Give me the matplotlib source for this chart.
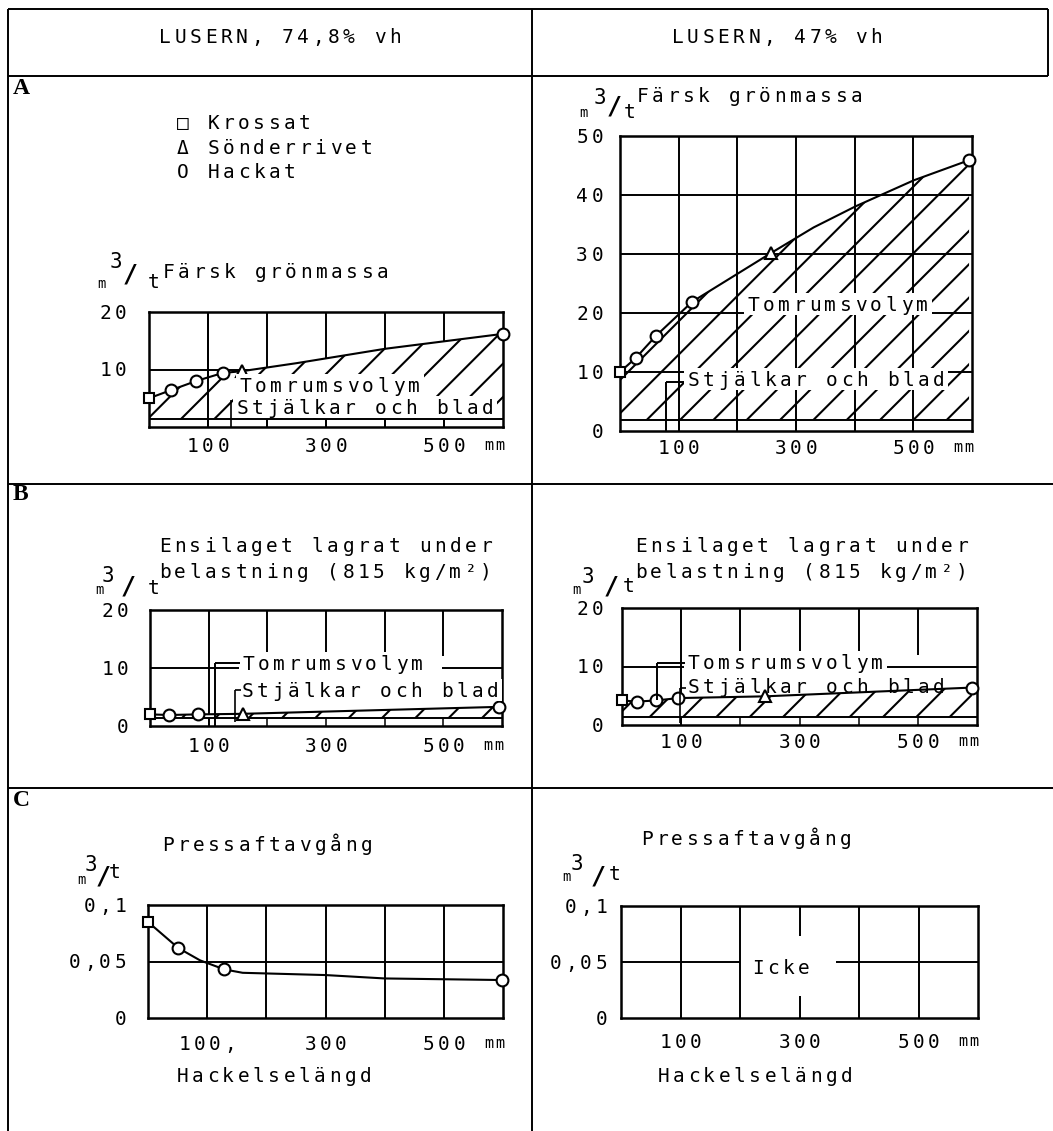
import matplotlib
matplotlib.use("Agg")
import matplotlib.pyplot as plt
from matplotlib.patches import Rectangle

W, H = 1053, 1131
MONO = ['DejaVu Sans Mono', 'Liberation Mono']
plt.rcParams['font.family'] = MONO
plt.rcParams['hatch.linewidth'] = 1.5

# ---- data: hackelselängd (mm) -> m3/t ----
# A  Färsk grönmassa, 74,8 % vh
a1_kross_x = [0]
a1_kross_y = [5.0]
a1_sond_x = [157]
a1_sond_y = [9.7]
a1_hack_x = [37, 80, 125, 600]
a1_hack_y = [6.4, 8.0, 9.4, 16.2]
a1_curve_x = [0, 37, 80, 125, 157, 250, 400, 600]
a1_curve_y = [5.0, 6.4, 8.0, 9.4, 9.7, 11.1, 13.6, 16.2]
a1_stalk = 1.4

# A  Färsk grönmassa, 47 % vh
a2_kross_x = [0]
a2_kross_y = [10.0]
a2_sond_x = [258]
a2_sond_y = [30.2]
a2_hack_x = [27, 61, 123, 595]
a2_hack_y = [12.4, 16.1, 21.9, 45.9]
a2_curve_x = [0, 27, 61, 123, 258, 330, 402, 501, 595]
a2_curve_y = [10.0, 12.4, 16.1, 21.9, 30.2, 34.5, 38.1, 42.5, 45.9]
a2_stalk = 1.9

# B  under belastning, 74,8 % vh
b1_kross_x = [0]
b1_kross_y = [2.0]
b1_sond_x = [158]
b1_sond_y = [2.1]
b1_hack_x = [33, 81, 595]
b1_hack_y = [1.9, 2.0, 3.3]
b1_curve_x = [0, 33, 81, 158, 595]
b1_curve_y = [2.0, 1.9, 2.0, 2.1, 3.3]
b1_stalk = 1.4

# B  under belastning, 47 % vh
b2_kross_x = [0]
b2_kross_y = [4.2]
b2_sond_x = [242]
b2_sond_y = [4.9]
b2_hack_x = [25, 58, 95, 592]
b2_hack_y = [4.0, 4.2, 4.6, 6.4]
b2_curve_x = [0, 25, 58, 95, 242, 592]
b2_curve_y = [4.2, 4.0, 4.2, 4.6, 4.9, 6.4]
b2_stalk = 1.3

# C  Pressaftavgång, 74,8 % vh
c1_kross_x = [0]
c1_kross_y = [0.085]
c1_hack_x = [51, 129, 598]
c1_hack_y = [0.062, 0.043, 0.0336]
c1_curve_x = [0, 51, 88, 129, 160, 300, 400, 598]
c1_curve_y = [0.085, 0.062, 0.051, 0.043, 0.040, 0.038, 0.035, 0.0336]

x_grid = [100, 200, 300, 400, 500]
x_ticks = [100, 300, 500]

fig = plt.figure(figsize=(W / 100, H / 100), dpi=100)

# overlay in pixel coordinates for the table, texts and leaders
ov = fig.add_axes([0, 0, 1, 1], zorder=10)
ov.set_xlim(0, W)
ov.set_ylim(H, 0)
ov.axis('off')
ov.patch.set_alpha(0)


def tw(x, y, s, size=14, pitch=15.3, ha='left'):
    # typewriter text: one fixed cell per character
    n = len(s)
    if ha == 'left':
        start = x + pitch / 2
    elif ha == 'center':
        start = x - pitch * (n - 1) / 2
    else:
        start = x - pitch * (n - 1) - pitch / 2
    for i, ch in enumerate(s):
        if ch != ' ':
            ov.text(start + i * pitch, y + size * 0.48, ch, fontsize=size,
                    ha='center', va='baseline', zorder=3)


def label(x, y, s, bg=True):
    if bg:
        ov.add_patch(Rectangle((x - 2, y - 11), len(s) * 15.3 + 4, 22,
                               fc='white', ec='none', zorder=1))
    tw(x, y, s)


def line(xs, ys, lw=1.4):
    ov.plot(xs, ys, color='black', lw=lw, zorder=2, solid_capstyle='butt')


def units(m, three, slash, t):
    ov.text(*m, 'm', fontsize=10, ha='center', va='center')
    ov.text(*three, '3', fontsize=15, ha='center', va='center')
    ov.text(*slash, '/', fontsize=18, ha='center', va='center', weight='bold')
    ov.text(*t, 't', fontsize=14, ha='center', va='center')


def to_px(ax, x, y):
    X, Y = ax.transData.transform((x, y))
    return X, H - Y


def panel(box, ymax, yticks, ylabels, ygap, xgap, xlabels=('100', '300', '500')):
    x0, y0, x1, y1 = box
    ax = fig.add_axes([x0 / W, 1 - y1 / H, (x1 - x0) / W, (y1 - y0) / H])
    ax.set_xlim(0, 600)
    ax.set_ylim(0, ymax)
    ax.set_xticks([])
    ax.set_yticks([])
    for sp in ax.spines.values():
        sp.set_linewidth(1.8)
    for v, lab in zip(yticks, ylabels):
        tw(x0 - ygap, to_px(ax, 0, v)[1], lab, ha='right')
    for v, lab in zip(x_ticks, xlabels):
        tw(to_px(ax, v, 0)[0], y1 + xgap, lab, ha='center')
    tw(to_px(ax, 500, 0)[0] + 50, y1 + xgap, 'mm', size=11, pitch=11, ha='center')
    return ax


def series(ax, cx, cy, kx, ky, hx, hy, sx=None, sy=None):
    ax.plot(cx, cy, color='black', lw=1.5, zorder=3, clip_on=False)
    mk = dict(mfc='white', mec='black', mew=1.5, ls='none', clip_on=False, zorder=4)
    ax.plot(kx, ky, marker='s', ms=7.5, **mk)
    ax.plot(hx, hy, marker='o', ms=8.5, **mk)
    if sx is not None:
        ax.plot(sx, sy, marker='^', ms=8.5, **mk)


def hatch(ax, cx, cy, base, fc):
    ax.fill_between(cx, base, cy, facecolor=fc, edgecolor='black', hatch='/',
                    linewidth=0, zorder=2)
    ax.axhline(base, color='black', lw=1.4, zorder=3)
    ax.vlines(x_grid, 0, base, color='black', lw=1.1, zorder=3)


# ---------- table ----------
line([8, 1048], [9, 9])
line([8, 1048], [76, 76])
line([8, 8], [9, H])
line([532, 532], [9, H])
line([1048, 1048], [9, 76])
line([8, W], [484, 484])
line([8, W], [788, 788])

tw(280, 36, 'LUSERN, 74,8% vh', ha='center')
tw(777, 36, 'LUSERN, 47% vh', ha='center')
for txt, yy in [('A', 88), ('B', 494), ('C', 801)]:
    ov.text(13, yy, txt, family=['Liberation Serif', 'DejaVu Serif'], fontsize=17,
            weight='bold', va='center', ha='left')

# legend, typed as text in the original
tw(175, 122, '□ Krossat')
tw(175, 147, 'Δ Sönderrivet')
tw(175, 171, 'O Hackat')

# ---------- A left ----------
axA1 = panel((149, 312, 503, 427), 20, [10, 20], ['10', '20'], 21, 18)
axA1.hlines(10, 0, 600, color='black', lw=1.4, zorder=1)
axA1.vlines(x_grid, 0, 20, color='black', lw=1.4, zorder=1)
hatch(axA1, a1_curve_x, a1_curve_y, a1_stalk, 'white')
axA1.vlines(100, 0, 20, color='black', lw=1.4, zorder=2.5)
series(axA1, a1_curve_x, a1_curve_y, a1_kross_x, a1_kross_y,
       a1_hack_x, a1_hack_y, a1_sond_x, a1_sond_y)
units((101, 284), (116, 262), (130, 275), (154, 282))
tw(161, 271, 'Färsk grönmassa')
label(238, 385, 'Tomrumsvolym')
label(235, 407, 'Stjälkar och blad')
line([231, 231], [400, 427], lw=1.2)

# ---------- A right ----------
axA2 = panel((620, 136, 972, 431), 50, [0, 10, 20, 30, 40, 50],
             ['0', '10', '20', '30', '40', '50'], 15, 16)
axA2.hlines([10, 20, 30, 40], 0, 600, color='black', lw=1.4, zorder=1)
axA2.vlines(x_grid, 0, 50, color='black', lw=1.4, zorder=1)
hatch(axA2, a2_curve_x, a2_curve_y, a2_stalk, 'none')
series(axA2, a2_curve_x, a2_curve_y, a2_kross_x, a2_kross_y,
       a2_hack_x, a2_hack_y, a2_sond_x, a2_sond_y)
units((583, 113), (600, 98), (614, 107), (630, 112))
tw(635, 95, 'Färsk grönmassa')
label(746, 304, 'Tomrumsvolym')
label(686, 379, 'Stjälkar och blad')
line([666, 684], [382, 382])
line([666, 666], [382, 431])

# ---------- B left ----------
axB1 = panel((150, 610, 502, 726), 20, [0, 10, 20], ['0', '10', '20'], 20, 19)
axB1.hlines(10, 0, 600, color='black', lw=1.4, zorder=1)
axB1.vlines(100, 0, 20, color='black', lw=1.4, zorder=1)
axB1.vlines([200, 300, 400, 500], 12, 20, color='black', lw=1.4, zorder=1)
hatch(axB1, b1_curve_x, b1_curve_y, b1_stalk, 'white')
series(axB1, b1_curve_x, b1_curve_y, b1_kross_x, b1_kross_y,
       b1_hack_x, b1_hack_y, b1_sond_x, b1_sond_y)
tw(157, 545, 'Ensilaget lagrat under')
tw(157, 571, 'belastning (815 kg/m²)')
units((99, 590), (108, 576), (128, 586), (154, 588))
label(241, 663, 'Tomrumsvolym ')
line([215, 240], [663, 663])
line([215, 215], [663, 726])
label(240, 690, 'Stjälkar och blad')
line([235, 235], [690, 722], lw=1.2)
line([235, 241], [690, 690], lw=1.2)

# ---------- B right ----------
axB2 = panel((622, 608, 977, 725), 20, [0, 10, 20], ['0', '10', '20'], 17, 16)
axB2.hlines(10, 0, 600, color='black', lw=1.4, zorder=1)
axB2.vlines(100, 0, 20, color='black', lw=1.4, zorder=1)
axB2.vlines([200, 300, 400, 500], 12, 20, color='black', lw=1.4, zorder=1)
hatch(axB2, b2_curve_x, b2_curve_y, b2_stalk, 'white')
series(axB2, b2_curve_x, b2_curve_y, b2_kross_x, b2_kross_y,
       b2_hack_x, b2_hack_y, b2_sond_x, b2_sond_y)
tw(633, 545, 'Ensilaget lagrat under')
tw(633, 571, 'belastning (815 kg/m²)')
units((576, 590), (588, 577), (611, 586), (629, 587))
label(686, 662, 'Tomsrumsvolym')
line([657, 685], [663, 663])
line([657, 657], [663, 700])
tw(686, 686, 'Stjälkar och blad')
line([680, 680], [688, 723], lw=1.2)
line([680, 686], [688, 688], lw=1.2)

# ---------- C left ----------
axC1 = panel((148, 905, 503, 1018), 0.1, [0, 0.05, 0.1], ['0', '0,05', '0,1'], 20, 25,
             xlabels=('100,', '300', '500'))
axC1.hlines(0.05, 0, 600, color='black', lw=1.4, zorder=1)
axC1.vlines(x_grid, 0, 0.1, color='black', lw=1.4, zorder=1)
series(axC1, c1_curve_x, c1_curve_y, c1_kross_x, c1_kross_y, c1_hack_x, c1_hack_y)
tw(160, 844, 'Pressaftavgång')
units((81, 880), (91, 865), (103, 876), (115, 872))
tw(274, 1075, 'Hackelselängd', ha='center')

# ---------- C right (no data: "Icke") ----------
axC2 = panel((621, 906, 978, 1018), 0.1, [0, 0.05, 0.1], ['0', '0,05', '0,1'], 12, 23)
axC2.hlines(0.05, 0, 200, color='black', lw=1.4, zorder=1)
axC2.hlines(0.05, 362, 600, color='black', lw=1.4, zorder=1)
axC2.vlines([100, 200, 400, 500], 0, 0.1, color='black', lw=1.4, zorder=1)
axC2.vlines(300, 0.073, 0.1, color='black', lw=1.4, zorder=1)
axC2.vlines(300, 0, 0.02, color='black', lw=1.4, zorder=1)
tw(639, 838, 'Pressaftavgång')
units((566, 877), (577, 864), (598, 876), (615, 874))
tw(750, 967, 'Icke')
tw(755, 1075, 'Hackelselängd', ha='center')

fig.savefig('out.png', dpi=100)
